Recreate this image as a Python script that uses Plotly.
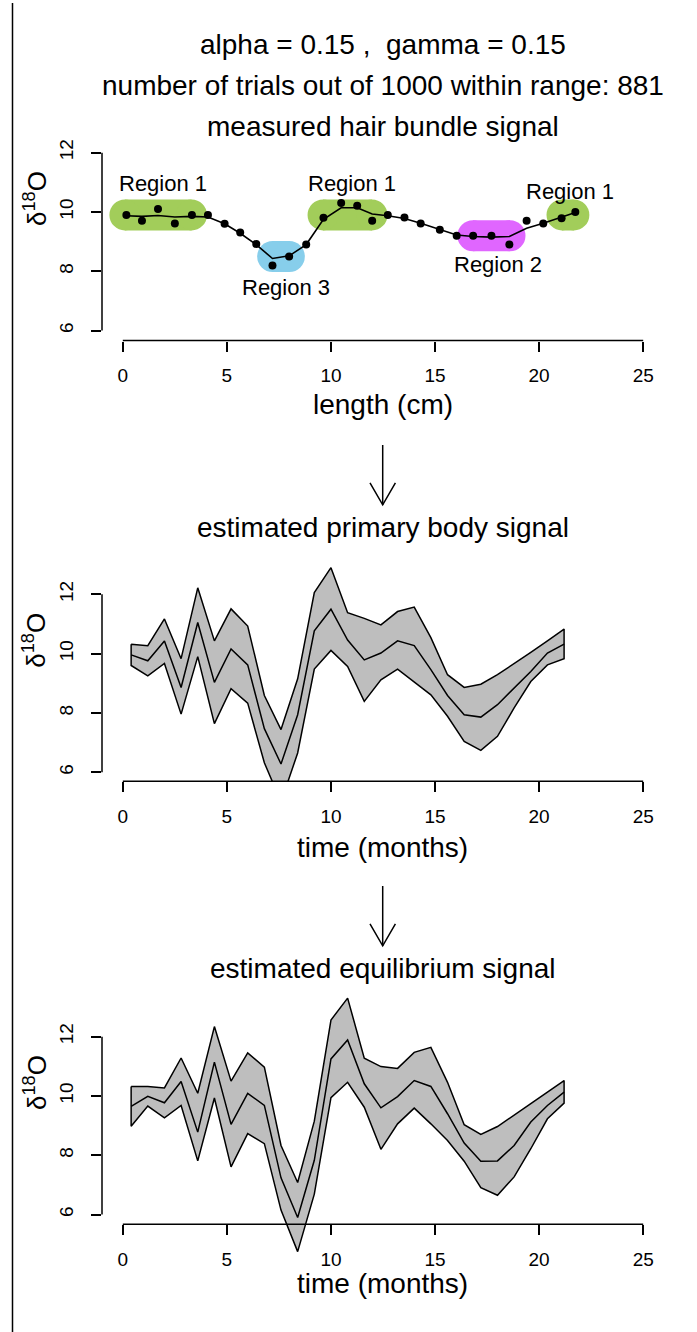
import plotly.graph_objects as go

W, H = 697, 1332
FONT = "Liberation Sans, Arial, Helvetica, sans-serif"

# ---- measured hair bundle signal (length in cm) ----
hair_length = [0.17, 0.92, 1.69, 2.50, 3.32, 4.09, 4.89, 5.64, 6.41, 7.19,
               7.99, 8.81, 9.64, 10.49, 11.26, 11.98, 12.73, 13.53, 14.31,
               15.23, 16.04, 16.83, 17.71, 18.57, 19.40, 20.20, 21.08, 21.74]
hair_d18o = [9.90, 9.70, 10.10, 9.61, 9.90, 9.90, 9.60, 9.31, 8.92, 8.19,
             8.50, 8.90, 9.80, 10.30, 10.21, 9.70, 9.90, 9.81, 9.61,
             9.40, 9.20, 9.20, 9.20, 8.90, 9.70, 9.61, 9.79, 10.00]
hair_smooth = [9.87, 9.85, 9.88, 9.83, 9.85, 9.83, 9.60, 9.28, 8.90, 8.43,
               8.52, 8.90, 9.75, 10.14, 10.14, 9.93, 9.87, 9.78, 9.62,
               9.41, 9.22, 9.17, 9.15, 9.17, 9.45, 9.62, 9.82, 9.98]

# regions assigned along the hair bundle
region_names = ["Region 1", "Region 3", "Region 1", "Region 2", "Region 1"]
region_start = [0.10, 7.20, 9.62, 16.82, 21.10]
region_end = [3.30, 8.00, 11.97, 18.60, 21.67]
region_level = [9.90, 8.50, 9.90, 9.20, 9.90]
region_colors = ["#A2CD5A", "#87CEEB", "#A2CD5A", "#E066FF", "#A2CD5A"]
region_label_x = [1.94, 7.82, 11.0, 18.01, 21.47]
region_label_y = [10.97, 7.46, 10.97, 8.24, 10.68]

# ---- reconstructed signals on a monthly time grid ----
time_months = [0.4, 1.2, 2.0, 2.8, 3.6, 4.4, 5.2, 6.0, 6.8, 7.6, 8.4, 9.2,
               10.0, 10.8, 11.6, 12.4, 13.2, 14.0, 14.8, 15.6, 16.4, 17.2,
               18.0, 18.8, 19.6, 20.4, 21.2]

body_upper = [10.32, 10.27, 11.17, 9.83, 12.22, 10.43, 11.51, 10.93, 8.59,
              7.44, 9.15, 12.06, 12.90, 11.38, 11.19, 10.97, 11.42, 11.57,
              10.54, 9.29, 8.86, 8.97, 9.29, 9.65, 10.04, 10.43, 10.83]
body_mean = [9.96, 9.76, 10.43, 8.86, 11.05, 9.03, 10.16, 9.62, 7.47,
             6.28, 7.94, 10.77, 11.50, 10.46, 9.79, 10.02, 10.43, 10.27,
             9.46, 8.59, 7.94, 7.86, 8.28, 8.84, 9.40, 10.02, 10.32]
body_lower = [9.60, 9.25, 9.67, 7.96, 9.90, 7.64, 8.82, 8.33, 6.32,
              5.00, 6.65, 9.48, 10.11, 9.57, 8.39, 9.12, 9.48, 9.06,
              8.61, 7.89, 7.04, 6.74, 7.21, 8.17, 9.06, 9.62, 9.83]

equil_upper = [10.32, 10.32, 10.27, 11.28, 10.09, 12.34, 10.50, 11.45, 10.97,
               8.33, 7.08, 9.15, 12.56, 13.30, 11.27, 10.99, 10.93, 11.47,
               11.64, 10.46, 9.03, 8.70, 8.97, 9.34, 9.74, 10.13, 10.52]
equil_mean = [9.65, 9.99, 9.77, 10.49, 8.78, 11.14, 9.04, 10.09, 9.68,
              7.24, 5.90, 7.83, 11.25, 11.89, 10.41, 9.60, 9.98, 10.52,
              10.32, 9.40, 8.41, 7.80, 7.81, 8.33, 9.12, 9.68, 10.13]
equil_lower = [8.98, 9.66, 9.26, 9.68, 7.81, 9.93, 7.61, 8.73, 8.39,
               6.15, 4.75, 6.69, 9.94, 10.46, 9.62, 8.20, 9.06, 9.59,
               9.06, 8.50, 7.80, 6.91, 6.65, 7.27, 8.22, 9.23, 9.76]

x_ticks = [0, 5, 10, 15, 20, 25]
y_ticks = [6, 8, 10, 12]

header_lines = ["alpha = 0.15 ,\u00a0\u00a0gamma = 0.15",
                "number of trials out of 1000 within range: 881"]
panel_titles = ["measured hair bundle signal",
                "estimated primary body signal",
                "estimated equilibrium signal"]
x_titles = ["length (cm)", "time (months)", "time (months)"]

# ---- page geometry (pixels) ----
PX_PER_UNIT = 29.72
X_LEFT, X_RIGHT = 102, 664
X_RANGE = [-1, 26]
# per panel: pixel row of value 6, plot top, plot bottom, x-axis row
panels = [
    dict(y6=328.3, top=140, bottom=338.3, axis=338.3, title_y=124, xlab_y=402),
    dict(y6=771.0, top=560, bottom=780.0, axis=780.0, title_y=526, xlab_y=846),
    dict(y6=1214.3, top=990, bottom=1258, axis=1224.0, title_y=968, xlab_y=1283),
]

TITLE_SIZE = 28
TICK_SIZE = 19


def py(pix):
    return 1 - pix / H


def px(pix):
    return pix / W


fig = go.Figure()
shapes = []
annotations = []
BLACK = "#000000"

for i, p in enumerate(panels):
    n = "" if i == 0 else str(i + 1)
    vtop = 6 + (p["y6"] - p["top"]) / PX_PER_UNIT
    vbot = 6 + (p["y6"] - p["bottom"]) / PX_PER_UNIT
    fig.layout["xaxis" + n] = dict(
        domain=[px(X_LEFT), px(X_RIGHT)], range=X_RANGE,
        anchor="free", position=py(p["axis"]),
        tickmode="array", tickvals=x_ticks, ticktext=[str(t) for t in x_ticks],
        ticks="outside", ticklen=10, tickwidth=1.5, tickcolor=BLACK,
        showline=False, showgrid=False, zeroline=False,
        ticklabelstandoff=8,
        tickfont=dict(family=FONT, size=TICK_SIZE, color=BLACK),
    )
    fig.layout["yaxis" + n] = dict(
        domain=[py(p["bottom"]), py(p["top"])], range=[vbot, vtop],
        anchor="x" + n,
        tickmode="array", tickvals=y_ticks, ticktext=[str(t) for t in y_ticks],
        ticks="outside", ticklen=10, tickwidth=1.5, tickcolor=BLACK,
        tickangle=-90, ticklabelstandoff=10,
        showline=False, showgrid=False, zeroline=False,
        tickfont=dict(family=FONT, size=TICK_SIZE, color=BLACK),
    )
    # axis lines spanning only the labelled ticks
    shapes.append(dict(type="line", xref="x" + n, yref="paper",
                       x0=x_ticks[0], x1=x_ticks[-1],
                       y0=py(p["axis"]), y1=py(p["axis"]),
                       line=dict(color=BLACK, width=1.5)))
    shapes.append(dict(type="line", xref="paper", yref="y" + n,
                       x0=px(X_LEFT), x1=px(X_LEFT),
                       y0=y_ticks[0], y1=y_ticks[-1],
                       line=dict(color=BLACK, width=1.5)))
    annotations.append(dict(text=panel_titles[i], xref="paper", yref="paper",
                            x=px(383), y=py(p["title_y"]), showarrow=False,
                            xanchor="center", yanchor="middle",
                            font=dict(family=FONT, size=TITLE_SIZE, color=BLACK)))
    annotations.append(dict(text=x_titles[i], xref="paper", yref="paper",
                            x=px(383), y=py(p["xlab_y"]), showarrow=False,
                            xanchor="center", yanchor="middle",
                            font=dict(family=FONT, size=TITLE_SIZE, color=BLACK)))
    annotations.append(dict(text="\u03b4<sup>18</sup>O", xref="paper", yref="paper",
                            x=px(35), y=py(p["y6"] - 6 * PX_PER_UNIT + 46.5),
                            showarrow=False, textangle=-90,
                            xanchor="center", yanchor="middle",
                            font=dict(family=FONT, size=26, color=BLACK)))

for k, line in enumerate(header_lines):
    annotations.append(dict(text=line, xref="paper", yref="paper",
                            x=px(383), y=py(42 + 41 * k), showarrow=False,
                            xanchor="center", yanchor="middle",
                            font=dict(family=FONT, size=TITLE_SIZE, color=BLACK)))

# ---- top panel: region bands, points and smoothed line ----
BAND = 31
for name, x0, x1, lvl, col in zip(region_names, region_start, region_end,
                                  region_level, region_colors):
    fig.add_trace(go.Scatter(
        x=[x0, x1], y=[lvl, lvl], mode="lines+markers",
        line=dict(color=col, width=BAND),
        marker=dict(color=col, size=BAND, line=dict(width=0)),
        xaxis="x", yaxis="y", showlegend=False, hoverinfo="skip"))
for name, lx, ly in zip(region_names, region_label_x, region_label_y):
    annotations.append(dict(text=name, xref="x", yref="y", x=lx, y=ly,
                            showarrow=False, xanchor="center", yanchor="middle",
                            font=dict(family=FONT, size=22, color=BLACK)))

fig.add_trace(go.Scatter(x=hair_length, y=hair_smooth, mode="lines",
                         line=dict(color=BLACK, width=1.6),
                         xaxis="x", yaxis="y", showlegend=False))
fig.add_trace(go.Scatter(x=hair_length, y=hair_d18o, mode="markers",
                         marker=dict(color=BLACK, size=8),
                         xaxis="x", yaxis="y", showlegend=False))

# ---- lower panels: uncertainty envelopes with central estimate ----
for n, up, mid, lo in [("2", body_upper, body_mean, body_lower),
                       ("3", equil_upper, equil_mean, equil_lower)]:
    fig.add_trace(go.Scatter(
        x=time_months + time_months[::-1] + [time_months[0]],
        y=up + lo[::-1] + [up[0]],
        mode="lines", fill="toself", fillcolor="#BEBEBE",
        line=dict(color=BLACK, width=1.5),
        xaxis="x" + n, yaxis="y" + n, showlegend=False))
    fig.add_trace(go.Scatter(x=time_months, y=mid, mode="lines",
                             line=dict(color=BLACK, width=1.5),
                             xaxis="x" + n, yaxis="y" + n, showlegend=False))

# ---- arrows between panels ----
for y_start, y_end in [(443, 503), (885, 945)]:
    xc = px(382.7)
    shapes.append(dict(type="line", xref="paper", yref="paper",
                       x0=xc, x1=xc, y0=py(y_start), y1=py(y_end),
                       line=dict(color=BLACK, width=1.5)))
    shapes.append(dict(type="path", xref="paper", yref="paper",
                       path=f"M {px(370)} {py(y_end - 22)} L {xc} {py(y_end)} "
                            f"L {px(395.4)} {py(y_end - 22)}",
                       line=dict(color=BLACK, width=1.5)))

# frame line on the left edge
shapes.append(dict(type="line", xref="paper", yref="paper",
                   x0=px(12.5), x1=px(12.5), y0=0, y1=1,
                   line=dict(color=BLACK, width=1.5)))

fig.update_layout(
    width=W, height=H, margin=dict(l=0, r=0, t=0, b=0),
    paper_bgcolor="white", plot_bgcolor="white",
    shapes=shapes, annotations=annotations, showlegend=False,
    font=dict(family=FONT, color=BLACK),
)

fig.write_html("out.html")
